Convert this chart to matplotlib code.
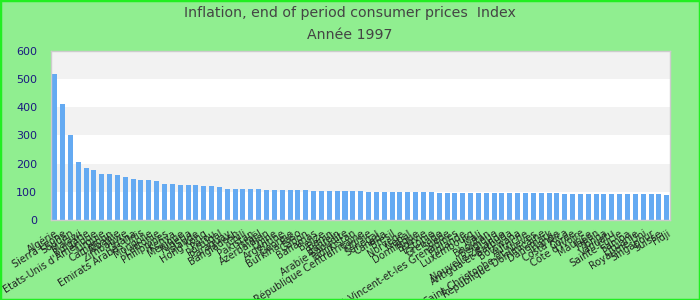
import numpy as np
import matplotlib
matplotlib.use('Agg')
import matplotlib.pyplot as plt
from matplotlib.patches import Rectangle

title = 'Inflation, end of period consumer prices  Index'
subtitle = 'Année 1997'

countries = ['Algérie', 'Sierra Leone', 'Soudan', 'Malawi', 'Bulgarie',
             "Etats-Unis d'Amérique", 'Turquie', 'Cameroun', 'Albanie', 'Zimbabwe',
             'Ghana', 'Emirats Arabes Unis', 'Mongolie', 'Lettonie', 'Philippines',
             'Kenya', 'Mexique', 'Nigeria', 'Islande', 'Hong Kong',
             'Pérou', 'Portugal', 'Paraguay', 'Bangladesh', 'Chili',
             'Pakistan', 'Israël', 'Azerbaïdjan', 'Chine', 'Argentine',
             'Géorgie', 'Burkina Faso', 'Gabon', 'Bahamas', 'Belize',
             'Bénin', 'Bahreïn', 'Arabie Saoudite', 'Tadjikistan', 'République Centrafricaine',
             'Tunisie', 'Sénégal', 'Canada', 'Brésil', 'Norvège',
             'Népal', 'Dominique', 'Bolivie', 'Estonie', 'Grenade',
             'Suède', 'Saint-Vincent-et-les Grenadines', 'Finlande', 'Luxembourg', 'Mali',
             'Bhoutan', 'Belgique', 'Nouvelle-Zélande', 'Antigua-et-Barbuda', 'Botswana',
             'Autriche', 'Saint-Christophe-et-Niévès', 'République Dominicaine', 'Danemark', 'Irlande',
             'Costa Rica', 'Corée', "Côte d'Ivoire", 'Maurice', 'Japon',
             'Tonga', 'Vanuatu', 'Sainte-Lucie', 'Samoa', 'Lituanie',
             'Royaume-Uni', 'Singapour', 'Suisse', 'Fidji']

values = [517, 410, 303, 207, 185, 178, 164, 163, 160, 153,
          146, 143, 142, 139, 128, 127, 125, 125, 124, 121,
          120, 118, 110, 110, 110, 109, 109, 107, 107, 107,
          106, 106, 106, 104, 104, 104, 103, 103, 103, 103,
          100, 100, 100, 100, 100, 99, 99, 99, 99, 96,
          96, 96, 96, 96, 96, 96, 96, 96, 96, 96,
          95, 95, 95, 95, 95, 93, 93, 93, 93, 93,
          93, 93, 93, 92, 92, 92, 92, 92, 89]

yticks = [0, 100, 200, 300, 400, 500, 600]

fig = plt.figure(figsize=(7, 3), dpi=100, facecolor='#90ee90')
ax = fig.add_axes([0.073, 0.267, 0.884, 0.563])

# alternating bands
for k in range(len(yticks) - 1):
    col = '#f2f2f2' if k % 2 == 1 else 'white'
    ax.axhspan(yticks[k], yticks[k + 1], color=col, zorder=0, lw=0)

x = np.arange(len(values))
ax.bar(x, values, width=0.64, color='#64aaf2', zorder=2)

ax.set_xlim(-0.45, len(values) - 0.6)
ax.set_ylim(0, 600)
ax.set_yticks(yticks)
ax.set_yticklabels([str(v) for v in yticks], fontsize=8, color='#1a1a80')
ax.set_xticks(x)
ax.set_xticklabels(countries, rotation=32, ha='right', rotation_mode='anchor',
                   fontsize=7, color='#222222')
ax.tick_params(axis='both', length=0)
ax.tick_params(axis='x', pad=6)
ax.tick_params(axis='y', pad=10)
for s in ax.spines.values():
    s.set_color('#cccccc')
    s.set_linewidth(1)

fig.text(0.5, 0.957, title, ha='center', va='center', fontsize=10.2, color='#444444')
fig.text(0.5, 0.883, subtitle, ha='center', va='center', fontsize=10.2, color='#444444')

fig.patches.append(Rectangle((0, 0), 1, 1, transform=fig.transFigure, fill=False,
                             edgecolor='#22ee22', lw=2.5))

fig.savefig('out.png', dpi=100, facecolor=fig.get_facecolor())
